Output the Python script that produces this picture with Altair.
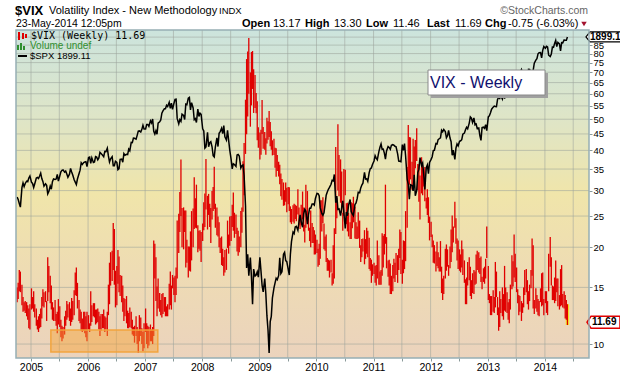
import altair as alt
import pandas as pd

# ---------------- data (weekly bars, 4 per month, Oct 2004 .. May 2014) ----------------
months = [str(p) for p in pd.period_range("2004-10", "2014-05", freq="M")]
week_days = [4, 11, 18, 25]

vix_high = [
    # 2004 Oct-Dec
    15.0, 15.5, 17.0, 16.8,  15.3, 14.0, 13.5, 13.6,  13.5, 13.2, 12.9, 13.3,
    # 2005
    14.9, 14.0, 14.6, 13.3,  12.9, 11.9, 12.2, 12.4,  12.9, 14.0, 14.8, 14.5,  14.6, 13.6, 18.6, 17.5,
    16.3, 15.2, 13.5, 13.0,  13.7, 12.4, 12.6, 13.8,  13.1, 11.9, 11.4, 11.3,  12.2, 12.7, 13.6, 13.3,
    13.5, 12.9, 13.9, 13.6,  14.7, 16.7, 17.3, 15.5,  13.7, 12.8, 12.6, 12.0,  12.6, 12.6, 12.2, 12.6,
    # 2006
    12.3, 11.6, 14.6, 13.2,  13.4, 13.4, 12.8, 12.8,  12.9, 12.6, 12.2, 12.4,  12.4, 12.8, 12.2, 12.1,
    12.6, 15.3, 17.9, 19.3,  19.5, 23.8, 22.8, 16.9,  17.5, 19.6, 18.7, 16.4,  16.3, 15.2, 13.9, 13.8,
    14.1, 12.7, 12.5, 13.0,  12.6, 11.9, 11.3, 11.4,  12.2, 11.3, 11.0, 12.3,  12.1, 11.2, 10.9, 11.6,
    # 2007
    12.9, 11.6, 11.4, 11.3,  11.5, 11.1, 11.3, 21.0,  20.5, 18.6, 15.1, 16.0,  14.4, 13.7, 14.3, 14.4,
    14.0, 14.0, 13.1, 13.3,  15.4, 16.8, 15.2, 16.4,  16.1, 16.3, 17.3, 24.2,  25.4, 29.7, 37.5, 26.5,
    26.6, 26.0, 26.0, 21.1,  20.1, 20.1, 22.4, 25.9,  26.4, 33.0, 28.4, 31.3,  23.4, 22.5, 22.6, 22.3,
    # 2008
    23.7, 27.6, 29.4, 37.6,  28.9, 29.3, 27.3, 26.5,  29.9, 30.8, 35.6, 27.3,  26.6, 24.9, 23.9, 21.4,
    21.6, 19.8, 18.6, 19.6,  19.8, 24.2, 21.9, 24.9,  25.0, 27.1, 29.6, 25.6,  25.3, 23.0, 22.5, 21.6,
    25.9, 26.6, 37.0, 42.2,  57.5, 76.9, 81.2, 89.5,  69.9, 80.9, 81.5, 71.5,  68.6, 60.3, 56.9, 47.2,
    # 2009
    45.5, 46.4, 57.4, 47.3,  45.6, 43.6, 50.5, 49.3,  53.0, 49.0, 45.9, 43.0,  43.5, 40.8, 40.6, 38.7,
    36.9, 36.1, 33.9, 32.6,  31.8, 30.1, 31.8, 30.6,  30.8, 30.7, 26.8, 26.3,  27.0, 27.3, 27.1, 26.9,
    30.3, 26.6, 24.7, 27.1,  29.8, 26.6, 23.5, 31.3,  29.9, 25.0, 23.0, 26.0,  23.8, 23.1, 22.6, 21.9,
    # 2010
    21.1, 19.8, 20.5, 28.0,  28.0, 28.6, 23.7, 21.6,  21.9, 18.5, 18.3, 18.2,  18.3, 16.6, 20.3, 22.9,
    41.0, 28.5, 48.2, 38.7,  37.5, 34.4, 25.6, 35.0,  34.8, 27.4, 27.5, 25.6,  23.9, 27.6, 27.4, 28.7,
    26.7, 23.9, 23.2, 25.7,  24.2, 20.3, 21.2, 21.3,  22.6, 21.2, 23.0, 22.5,  21.4, 18.5, 18.3, 17.7,
    # 2011
    17.9, 17.5, 17.6, 21.0,  18.9, 16.8, 17.0, 22.1,  21.7, 22.0, 31.3, 21.5,  18.2, 18.3, 17.8, 16.3,
    17.6, 18.4, 17.9, 19.2,  18.9, 19.8, 22.7, 22.3,  18.3, 21.0, 20.9, 25.9,  35.5, 48.0, 44.0, 43.9,
    36.9, 43.5, 41.1, 43.1,  46.9, 36.3, 36.2, 33.4,  38.1, 35.9, 34.4, 35.5,  28.5, 30.3, 28.6, 24.9,
    # 2012
    24.0, 21.9, 21.0, 20.3,  19.4, 20.8, 19.3, 18.6,  20.9, 17.4, 16.0, 16.3,  19.8, 20.4, 19.7, 17.6,
    20.1, 22.7, 25.1, 23.2,  27.7, 24.6, 21.3, 21.0,  19.7, 19.0, 21.0, 19.7,  18.2, 15.9, 16.1, 18.0,
    18.6, 17.4, 15.8, 16.6,  17.0, 16.8, 19.0, 19.5,  19.3, 18.5, 18.7, 16.2,  17.2, 17.4, 18.4, 23.2,
    # 2013
    17.5, 14.3, 14.1, 14.1,  14.7, 14.0, 18.0, 16.8,  14.0, 13.0, 14.6, 13.8,  15.0, 14.3, 17.5, 15.0,
    14.5, 13.5, 13.8, 15.3,  18.9, 18.1, 21.9, 19.1,  17.3, 14.8, 14.2, 14.1,  13.6, 13.4, 15.0, 17.0,
    17.1, 15.8, 14.6, 15.3,  17.0, 21.3, 20.3, 13.7,  14.9, 14.2, 13.8, 13.6,  14.9, 16.6, 16.7, 13.8,
    # 2014 Jan-May
    14.6, 14.6, 13.6, 19.1,  21.5, 18.6, 15.2, 15.1,  16.1, 18.2, 16.0, 16.0,  14.2, 17.1, 17.6, 14.3,
    14.6, 14.2, 13.7, 13.30,
]

vix_low = [
    # 2004 Oct-Dec
    13.5, 13.8, 14.6, 14.5,  13.2, 12.6, 12.7, 12.5,  12.2, 11.9, 11.2, 11.1,
    # 2005
    12.8, 12.9, 12.6, 12.1,  11.4, 11.1, 10.9, 11.2,  11.3, 12.0, 13.1, 13.0,  13.5, 11.8, 13.6, 14.5,
    13.4, 12.8, 11.9, 11.8,  11.8, 11.4, 10.8, 11.5,  11.3, 10.5, 10.2, 10.4,  10.7, 11.4, 11.9, 12.1,
    11.8, 11.4, 11.7, 11.9,  12.3, 14.2, 14.1, 12.9,  11.8, 11.6, 11.0, 10.9,  11.0, 10.8, 10.5, 10.2,
    # 2006
    11.1, 10.9, 11.4, 11.7,  12.2, 12.1, 11.5, 11.6,  11.7, 11.1, 10.6, 11.0,  11.2, 11.2, 10.9, 11.1,
    10.6, 12.3, 13.3, 15.2,  15.7, 17.0, 15.3, 13.0,  13.2, 15.4, 14.5, 14.1,  13.5, 12.6, 11.8, 12.2,
    11.6, 11.2, 11.2, 11.3,  11.2, 10.7, 10.6, 10.1,  10.6, 10.0, 9.4, 10.2,  10.6, 10.0, 9.5, 9.7,
    # 2007
    10.9, 10.0, 9.7, 9.9,  10.2, 10.2, 10.0, 10.6,  16.0, 13.6, 12.2, 12.9,  12.6, 12.3, 12.1, 12.4,
    12.6, 12.2, 12.2, 12.2,  12.8, 13.2, 12.8, 14.9,  14.2, 13.5, 14.2, 16.0,  19.2, 22.3, 25.0, 20.0,
    19.7, 22.3, 17.3, 17.9,  16.1, 16.9, 16.8, 18.2,  20.0, 22.8, 23.0, 22.9,  19.3, 19.8, 19.5, 18.0,
    # 2008
    20.9, 22.6, 23.1, 26.2,  22.7, 25.2, 23.1, 20.6,  24.4, 25.9, 26.3, 23.0,  21.8, 21.6, 20.0, 19.2,
    17.6, 17.5, 16.3, 16.7,  17.0, 19.9, 19.1, 20.2,  20.9, 23.1, 22.5, 21.4,  22.0, 19.4, 18.8, 19.3,
    20.0, 22.2, 25.8, 29.0,  39.0, 44.9, 51.0, 60.0,  47.4, 55.2, 62.1, 52.3,  54.2, 52.2, 43.0, 40.8,
    # 2009
    37.5, 38.8, 45.0, 40.5,  40.2, 38.8, 42.0, 43.2,  44.0, 41.2, 40.2, 38.6,  38.7, 35.3, 33.1, 34.5,
    33.2, 31.4, 28.8, 28.1,  26.9, 27.0, 27.7, 25.7,  27.2, 25.9, 23.9, 23.6,  24.0, 23.7, 24.5, 24.1,
    25.3, 23.4, 22.8, 23.4,  24.4, 22.4, 20.7, 23.0,  24.6, 22.5, 20.9, 20.0,  20.6, 20.6, 19.0, 19.0,
    # 2010
    19.2, 17.4, 17.6, 18.4,  22.4, 23.8, 19.7, 19.5,  18.0, 16.9, 16.9, 16.1,  16.7, 15.2, 15.4, 16.0,
    22.0, 24.6, 30.0, 28.8,  27.5, 25.6, 22.5, 25.0,  29.0, 23.6, 22.4, 21.6,  21.2, 21.2, 22.9, 23.9,
    21.3, 21.2, 21.2, 21.3,  19.9, 18.0, 18.6, 19.4,  17.7, 18.4, 19.1, 18.6,  17.1, 16.9, 15.5, 16.3,
    # 2011
    16.5, 15.5, 15.2, 16.0,  15.3, 15.3, 15.3, 16.3,  17.3, 19.0, 20.5, 17.2,  16.2, 15.2, 14.3, 14.3,
    14.6, 16.0, 15.6, 16.4,  15.5, 17.0, 18.5, 16.5,  15.4, 16.6, 17.1, 18.1,  23.0, 31.5, 31.3, 32.5,
    30.2, 30.2, 32.0, 35.2,  37.1, 30.1, 27.7, 24.4,  29.4, 29.0, 30.9, 27.8,  26.4, 25.2, 23.8, 21.0,
    # 2012
    21.5, 20.0, 17.9, 17.8,  16.8, 17.5, 17.2, 16.8,  16.8, 14.4, 13.7, 14.3,  16.0, 16.9, 17.4, 16.3,
    17.2, 18.0, 19.3, 20.7,  23.0, 20.5, 18.2, 17.1,  16.9, 16.7, 17.3, 16.4,  15.5, 13.3, 13.3, 15.2,
    15.8, 14.1, 13.8, 14.4,  14.3, 15.3, 15.4, 17.0,  16.7, 16.5, 15.6, 14.8,  15.6, 15.4, 16.0, 18.5,
    # 2013
    13.7, 13.4, 12.3, 12.3,  12.6, 12.5, 13.0, 14.0,  12.3, 11.0, 11.3, 12.5,  12.2, 11.9, 12.7, 12.6,
    12.5, 11.9, 11.6, 12.8,  14.8, 15.1, 16.1, 15.6,  14.5, 13.4, 12.3, 12.6,  11.8, 12.5, 13.0, 14.2,
    14.5, 13.3, 12.8, 13.6,  14.9, 16.3, 12.9, 12.4,  12.9, 12.6, 12.3, 12.2,  13.5, 13.1, 13.2, 12.3,
    # 2014 Jan-May
    13.4, 12.5, 12.3, 14.6,  17.4, 15.2, 13.7, 13.7,  13.4, 13.6, 14.5, 13.1,  12.8, 13.1, 13.2, 13.0,
    12.9, 12.0, 11.9, 11.46,
]

spx_close = [
    # 2004 Oct-Dec
    1131, 1122, 1108, 1095,  1166, 1184, 1170, 1182,  1191, 1189, 1203, 1211,
    # 2005
    1187, 1182, 1167, 1181,  1203, 1205, 1201, 1211,  1222, 1201, 1190, 1172,  1181, 1175, 1143, 1152,
    1172, 1160, 1189, 1199,  1197, 1199, 1217, 1191,  1211, 1227, 1233, 1235,  1226, 1230, 1219, 1206,
    1218, 1241, 1227, 1215,  1196, 1187, 1178, 1199,  1220, 1234, 1264, 1257,  1265, 1267, 1268, 1248,
    # 2006
    1285, 1287, 1261, 1284,  1265, 1267, 1289, 1287,  1276, 1284, 1307, 1302,  1295, 1289, 1311, 1310,
    1325, 1292, 1267, 1280,  1289, 1252, 1252, 1270,  1265, 1236, 1240, 1278,  1279, 1266, 1302, 1295,
    1299, 1298, 1321, 1314,  1350, 1349, 1369, 1368,  1364, 1381, 1400, 1401,  1396, 1408, 1427, 1410,
    # 2007
    1410, 1431, 1431, 1422,  1448, 1438, 1456, 1399,  1387, 1402, 1386, 1437,  1443, 1452, 1484, 1495,
    1505, 1505, 1522, 1516,  1537, 1507, 1533, 1502,  1531, 1552, 1553, 1459,  1433, 1453, 1445, 1479,
    1473, 1454, 1528, 1525,  1557, 1561, 1500, 1535,  1509, 1453, 1458, 1440,  1504, 1468, 1484, 1478,
    # 2008
    1411, 1401, 1325, 1330,  1395, 1331, 1349, 1353,  1331, 1293, 1288, 1330,  1370, 1332, 1390, 1398,
    1413, 1389, 1425, 1375,  1360, 1404, 1360, 1318,  1278, 1239, 1260, 1257,  1249, 1296, 1298, 1292,
    1243, 1252, 1255, 1213,  1099, 899, 940, 877,  930, 873, 800, 896,  876, 879, 888, 873,
    # 2009
    931, 890, 850, 832,  869, 827, 770, 735,  683, 756, 769, 816,  843, 857, 870, 866,
    877, 929, 883, 888,  940, 946, 921, 918,  896, 879, 940, 979,  1010, 1005, 1027, 1029,
    1016, 1043, 1068, 1044,  1026, 1071, 1087, 1080,  1036, 1069, 1091, 1091,  1106, 1106, 1102, 1126,
    # 2010
    1145, 1144, 1136, 1092,  1073, 1066, 1075, 1105,  1138, 1150, 1160, 1167,  1179, 1194, 1192, 1217,
    1111, 1135, 1087, 1089,  1065, 1092, 1117, 1076,  1022, 1078, 1065, 1102,  1122, 1079, 1071, 1065,
    1104, 1110, 1125, 1149,  1147, 1165, 1176, 1183,  1225, 1199, 1200, 1190,  1224, 1240, 1243, 1257,
    # 2011
    1271, 1293, 1283, 1276,  1310, 1329, 1343, 1320,  1321, 1304, 1279, 1313,  1332, 1328, 1320, 1337,
    1340, 1338, 1333, 1331,  1301, 1271, 1270, 1268,  1340, 1316, 1345, 1292,  1199, 1179, 1123, 1177,
    1174, 1154, 1216, 1136,  1155, 1225, 1238, 1285,  1253, 1263, 1216, 1159,  1244, 1255, 1220, 1265,
    # 2012
    1278, 1289, 1315, 1316,  1345, 1343, 1362, 1366,  1370, 1404, 1397, 1408,  1398, 1370, 1379, 1403,
    1369, 1353, 1295, 1317,  1278, 1325, 1343, 1335,  1355, 1357, 1362, 1386,  1391, 1406, 1418, 1411,
    1437, 1466, 1460, 1440,  1461, 1429, 1433, 1412,  1414, 1380, 1359, 1416,  1418, 1413, 1430, 1402,
    # 2013
    1466, 1472, 1486, 1503,  1513, 1518, 1516, 1515,  1551, 1561, 1556, 1569,  1553, 1589, 1555, 1582,
    1614, 1634, 1667, 1650,  1631, 1643, 1626, 1592,  1632, 1680, 1692, 1691,  1709, 1691, 1655, 1656,
    1632, 1655, 1710, 1709,  1691, 1690, 1704, 1744,  1762, 1770, 1798, 1804,  1805, 1775, 1818, 1841,
    # 2014 Jan-May
    1831, 1842, 1838, 1790,  1782, 1797, 1838, 1836,  1859, 1878, 1841, 1866,  1857, 1815, 1864, 1863,
    1881, 1878, 1878, 1899.11,
]

vix_grid = [10, 15, 20, 25, 30, 35, 40, 45, 50, 55, 60, 65, 70, 75, 80, 85, 90]
x_grid = [f"{y}-{m}-01" for y in range(2005, 2015) for m in ("01", "07")]

highlight_start, highlight_end = "2005-05-08", "2007-03-23"
highlight_low, highlight_high = 9.44, 11.05

last_vix = 11.69
last_spx = 1899.11

dates = [f"{m}-{d:02d}" for m in months for d in week_days]
assert len(vix_high) == len(dates), (len(vix_high), len(dates))
assert len(vix_low) == len(dates), len(vix_low)
assert len(spx_close) == len(dates), len(spx_close)

df = pd.DataFrame({"date": dates, "high": vix_high, "low": vix_low, "spx": spx_close})
last_df = df.tail(1)
one = pd.DataFrame({"k": [0]})

# ---------------- layout ----------------
W, H = 573, 328
FONT = "Liberation Sans"

x_scale = alt.Scale(domain=[alt.DateTime(year=2004, month=9, date=27, utc=True),
                            alt.DateTime(year=2014, month=10, date=10, utc=True)])
vix_scale = alt.Scale(type="log", domain=[9.05, 94.7], nice=False, zero=False)
spx_scale = alt.Scale(type="log", domain=[672, 1942], nice=False, zero=False)

x_axis = alt.Axis(
    values=[alt.DateTime(year=y, month=m, date=1, utc=True) for y in range(2005, 2015) for m in (1, 7)],
    labelExpr="utcmonth(datum.value) == 0 ? utcFormat(datum.value, '%Y') : ''",
    title=None, grid=False, domain=False, tickSize=3, tickColor="#8a9a9a",
    labelPadding=1, labelFontSize=10.5, labelFont=FONT, labelColor="#000000", labelOverlap=False)
vix_axis = alt.Axis(
    orient="right", values=vix_grid, format="d",
    labelExpr="datum.value >= 90 ? '' : datum.label",
    title=None, grid=False, domain=False, tickSize=3, tickColor="#8a9a9a",
    labelPadding=1, labelFontSize=9.5, labelFont=FONT, labelColor="#000000", labelOverlap=False)


def X(field):
    return alt.X(f"{field}:T", scale=x_scale, axis=x_axis)


def YV(field):
    return alt.Y(f"{field}:Q", scale=vix_scale, axis=vix_axis)


def YS(field):
    return alt.Y(f"{field}:Q", scale=spx_scale, axis=None)


bg = alt.Chart(one).mark_rect(
    fill=alt.LinearGradient(
        gradient="linear", x1=0, y1=0, x2=0, y2=1,
        stops=[alt.GradientStop(color="#cce4dd", offset=0),
               alt.GradientStop(color="#dfe5c6", offset=0.28),
               alt.GradientStop(color="#f0e5aa", offset=0.5),
               alt.GradientStop(color="#eedbb4", offset=0.75),
               alt.GradientStop(color="#ebd3bd", offset=1)])
).encode(x=alt.value(0), x2=alt.value(W), y=alt.value(0), y2=alt.value(H))

grid_x = alt.Chart(pd.DataFrame({"gd": x_grid})).mark_rule(
    color="#9aa39a", opacity=0.55, strokeWidth=1).encode(x=X("gd"))
grid_y = alt.Chart(pd.DataFrame({"low": vix_grid})).mark_rule(
    color="#9aa39a", opacity=0.55, strokeWidth=1).encode(y=YV("low"))

hl = alt.Chart(last_df).mark_rule(color="#f2ec2a", strokeWidth=3.5).encode(
    x=X("date"), y=YV("low"), y2="high")
bars = alt.Chart(df).mark_rule(color="#e00000", strokeWidth=1.3).encode(
    x=X("date"), y=YV("low"), y2="high")

box = alt.Chart(pd.DataFrame({"date": [highlight_start], "end": [highlight_end],
                              "low": [highlight_low], "high": [highlight_high]})).mark_rect(
    fill="#f7a030", fillOpacity=0.45, stroke="#f2a23a", strokeWidth=1.5, strokeOpacity=0.95
).encode(x=X("date"), x2="end", y=YV("low"), y2="high")

vix_tag_df = pd.DataFrame({"low": [last_vix], "t": [f"{last_vix:.2f}"]})
vix_tag = alt.Chart(vix_tag_df).mark_point(
    shape="M0,0 L4,-6 L33,-6 L33,6 L4,6 Z", size=4, filled=True, fill="white",
    stroke="#e00000", strokeWidth=1.5, opacity=1, fillOpacity=1
).encode(x=alt.value(571), y=YV("low"))
vix_tag_text = alt.Chart(vix_tag_df).mark_text(
    align="left", baseline="middle", font=FONT, fontSize=10, fontWeight="bold", color="black"
).encode(x=alt.value(576), y=YV("low"), text="t:N")

vix_group = alt.layer(grid_x, grid_y, hl, bars, box, vix_tag, vix_tag_text)

spx_line = alt.Chart(df).mark_line(color="#000000", strokeWidth=1.5).encode(
    x=X("date"), y=YS("spx"))
spx_tag_df = pd.DataFrame({"spx": [last_spx], "t": [f"{last_spx:.2f}"]})
spx_tag = alt.Chart(spx_tag_df).mark_point(
    shape="M0,0 L4,-5 L50,-5 L50,5 L4,5 Z", size=4, filled=True, fill="white",
    stroke="#000000", strokeWidth=1.2, opacity=1, fillOpacity=1
).encode(x=alt.value(570), y=YS("spx"))
spx_tag_text = alt.Chart(spx_tag_df).mark_text(
    align="left", baseline="middle", font=FONT, fontSize=10, fontWeight="bold", color="black"
).encode(x=alt.value(574), y=YS("spx"), text="t:N")
spx_group = alt.layer(spx_line, spx_tag, spx_tag_text)


def txt(x, y, s, size=11, weight="normal", color="#000000", font=FONT, align="left"):
    return alt.Chart(one).mark_text(
        align=align, baseline="middle", font=font, fontSize=size, fontWeight=weight, color=color
    ).encode(x=alt.value(x), y=alt.value(y), text=alt.value(s))


texts = [
    txt(-1, -19, "$VIX", 13, "bold"),
    txt(33, -19, "Volatility Index - New Methodology", 11),
    txt(203, -19, "INDX", 9.5),
    txt(572, -19, "\u00a9StockCharts.com", 10.5, color="#666666", align="right"),
    txt(0, -6, "23-May-2014 12:05pm", 10.5),
    txt(226, -6, "Open", 11, "bold"), txt(257, -6, "13.17", 11),
    txt(289, -6, "High", 11, "bold"), txt(318, -6, "13.30", 11),
    txt(350, -6, "Low", 11, "bold"), txt(377, -6, "11.46", 11),
    txt(411, -6, "Last", 11, "bold"), txt(439, -6, "11.69", 11),
    txt(469, -6, "Chg", 11, "bold"), txt(492, -6, "-0.75 (-6.03%)", 11),
    txt(15, 6, "$VIX (Weekly) 11.69", 10, font="DejaVu Sans Mono"),
    txt(14, 16, "Volume undef", 10, color="#2f8f2f"),
    txt(14, 26, "$SPX 1899.11", 9.5),
    txt(414, 53, "VIX - Weekly", 16, color="#10106e"),
]

tri = alt.Chart(one).mark_point(shape="triangle-down", size=30, filled=True,
                                color="#a3122e", opacity=1).encode(
    x=alt.value(568), y=alt.value(-6))

icons = alt.Chart(pd.DataFrame({
    "x": [3, 7, 10, 2, 5, 8, 2], "x2": [3, 7, 10, 2, 5, 8, 11],
    "y": [2, 3, 4, 15, 13, 16, 26], "y2": [10, 9, 8, 20, 20, 20, 26],
    "c": ["#e00000"] * 3 + ["#2f8f2f"] * 3 + ["#000000"]})).mark_rule(strokeWidth=2).encode(
    x=alt.X("x:Q", scale=None), x2="x2:Q", y=alt.Y("y:Q", scale=None), y2="y2:Q",
    color=alt.Color("c:N", scale=None))

shadow = alt.Chart(one).mark_rect(fill="#a0a0a0").encode(
    x=alt.value(415), x2=alt.value(532), y=alt.value(43), y2=alt.value(68))
note = alt.Chart(one).mark_rect(fill="#ffffff", stroke="#8a8a8a", strokeWidth=1).encode(
    x=alt.value(412), x2=alt.value(529), y=alt.value(40), y2=alt.value(65))

border = alt.Chart(one).mark_rect(fillOpacity=0, stroke="#96aeb4", strokeWidth=1.5).encode(
    x=alt.value(0), x2=alt.value(W), y=alt.value(0), y2=alt.value(H))

chart = alt.layer(
    bg, vix_group, spx_group, shadow, note, icons, tri, *texts, border
).resolve_scale(y="independent").properties(
    width=W, height=H,
    padding={"left": 16, "top": 30, "right": 31, "bottom": 18},
    autosize=alt.AutoSizeParams(type="none"),
    background="white",
).configure_view(strokeWidth=0)

chart.save("out.html", embed_options={"renderer": "svg", "actions": False})
